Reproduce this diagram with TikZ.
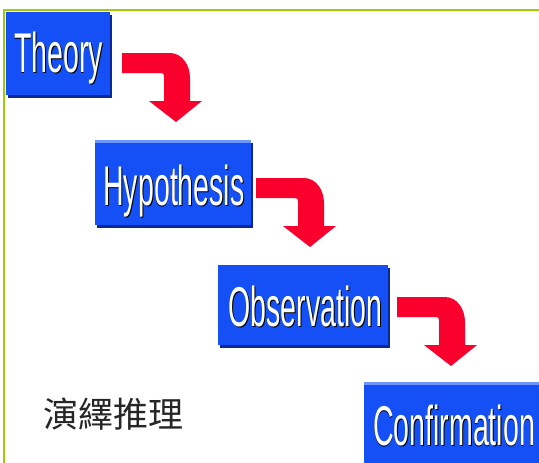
\documentclass[tikz,border=0pt]{standalone}
\usepackage{fontspec}
\setmainfont{Liberation Sans}
\newfontfamily\cjk{Noto Sans CJK TC}
\usepackage{graphicx}
\definecolor{boxblue}{RGB}{20,80,245}
\definecolor{boxdark}{RGB}{10,40,150}
\definecolor{boxlight}{RGB}{110,150,250}
\definecolor{arrowred}{RGB}{250,0,45}
\definecolor{framegreen}{RGB}{160,205,0}
\newcommand{\shtext}[1]{\scalebox{0.51}[1]{\rlap{\hspace{1.6pt}\raisebox{-1.6pt}{\color{black}#1}}{\color{white}#1}}}
\newcommand{\bentarrow}[2]{%
  \fill[arrowred, shift={(#1,#2)}] (0,0) -- (48,0) .. controls (60,0) and (68,12) .. (68,25)
    -- (68,48) -- (80,48) -- (54,69) -- (27,48) -- (42,48) -- (42,23)
    .. controls (42,21) and (41,20) .. (39,20) -- (0,20) -- cycle;}
\tikzset{
  box/.style={rectangle, draw=none, fill=boxblue, inner sep=0pt,
    preaction={fill=boxdark, transform canvas={shift={(2pt,-3pt)}}}},
  topedge/.style={path picture={\fill[boxlight] (path picture bounding box.north west) rectangle ([yshift=-3pt]path picture bounding box.north east);}},
  boxtext/.style={inner sep=0pt, anchor=base, font=\fontsize{56}{60}\selectfont},
}
\begin{document}
\begin{tikzpicture}[x=1pt,y=-1pt]
\useasboundingbox (0,0) rectangle (539,463);
\clip (0,0) rectangle (539,463);
\fill[white] (0,0) rectangle (539,463);
% frame
\draw[framegreen, line width=2pt] (4,470) -- (4,10) -- (545,10);
% boxes
\node[box, minimum width=104pt, minimum height=83pt] (theory) at (58,53.5) {};
\node[box, topedge, minimum width=156pt, minimum height=85pt] (hypo) at (173,182.5) {};
\node[box, minimum width=170pt, minimum height=80pt] (obs) at (303,305) {};
\node[box, topedge, minimum width=185pt, minimum height=90pt] (conf) at (456.5,427) {};
% texts
\node[boxtext] (theoryT) at (58.5,72) {\shtext{Theory}};
\node[boxtext] (hypoT) at (174,205) {\shtext{Hypothesis}};
\node[boxtext] (obsT) at (305.5,326) {\shtext{Observation}};
\node[boxtext] (confT) at (454,445) {\shtext{Confirmation}};
% arrows
\bentarrow{122}{53}
\bentarrow{256}{178}
\bentarrow{397}{297}
% chinese label
\node[inner sep=0pt, anchor=west, font=\cjk\fontsize{35}{40}\selectfont, text=black!85] (deduction) at (43,414) {演繹推理};
\end{tikzpicture}
\end{document}
